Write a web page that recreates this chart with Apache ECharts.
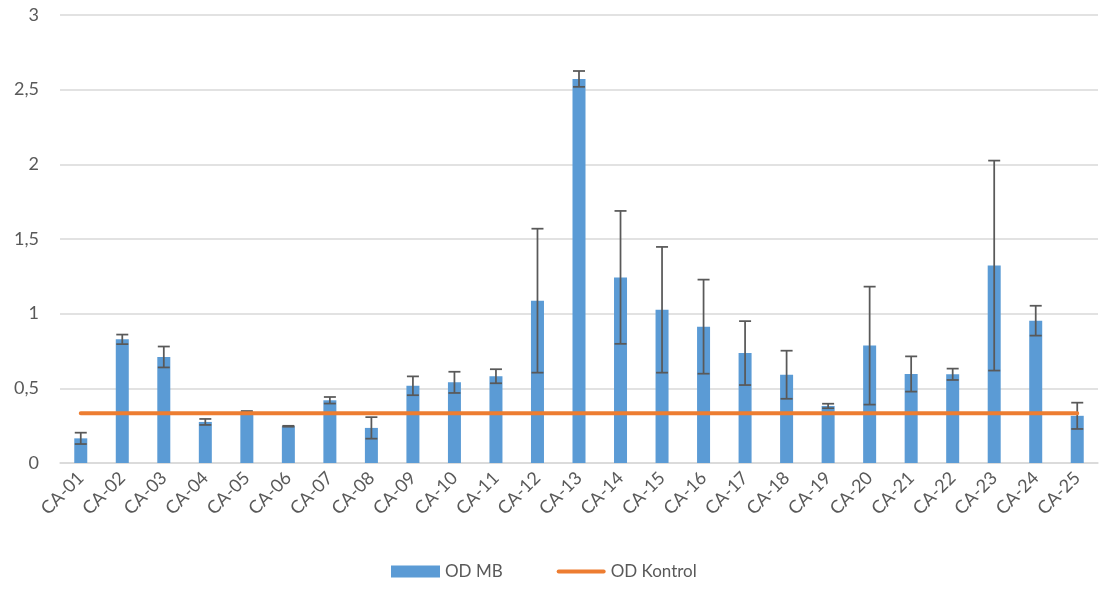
<!DOCTYPE html>
<html>
<head>
<meta charset="utf-8">
<script src="https://cdn.jsdelivr.net/npm/echarts@6/dist/echarts.min.js"></script>
<style>
html,body{margin:0;padding:0;background:#fff;}
#chart{width:1103px;height:590px;}
</style>
</head>
<body>
<div id="chart"></div>
<script>
const categories = ['CA-01','CA-02','CA-03','CA-04','CA-05','CA-06','CA-07','CA-08','CA-09','CA-10','CA-11','CA-12','CA-13','CA-14','CA-15','CA-16','CA-17','CA-18','CA-19','CA-20','CA-21','CA-22','CA-23','CA-24','CA-25'];
const odMB = [0.165,0.828,0.710,0.275,0.343,0.246,0.420,0.235,0.517,0.540,0.581,1.087,2.572,1.243,1.026,0.913,0.736,0.591,0.382,0.786,0.596,0.594,1.322,0.953,0.316];
const odMBErr = [0.038,0.032,0.070,0.020,0.005,0.003,0.022,0.072,0.063,0.071,0.047,0.482,0.053,0.445,0.421,0.315,0.214,0.161,0.015,0.395,0.118,0.038,0.703,0.100,0.088];
const odKontrol = [0.333,0.333,0.333,0.333,0.333,0.333,0.333,0.333,0.333,0.333,0.333,0.333,0.333,0.333,0.333,0.333,0.333,0.333,0.333,0.333,0.333,0.333,0.333,0.333,0.333];
const yTicks = [0,0.5,1,1.5,2,2.5,3];

const errData = odMB.map((v,i)=>[i, v - odMBErr[i], v + odMBErr[i]]);
const FONT = 'Lato';
const chart = echarts.init(document.getElementById('chart'));
chart.setOption({
  animation:false,
  textStyle:{fontFamily:FONT},
  grid:{left:60,right:5,top:15,bottom:127,containLabel:false},
  legend:{
    bottom:5,left:386,
    itemWidth:49,itemHeight:12,itemGap:54,
    textStyle:{fontFamily:FONT,fontSize:17,color:'#595959'},
    data:[{name:'OD MB',icon:'rect'},
          {name:'OD Kontrol',icon:'path://M2,0 L47,0 A2,2 0 0 1 47,4 L2,4 A2,2 0 0 1 2,0 Z'}]
  },
  xAxis:{
    type:'category',data:categories,boundaryGap:true,
    axisLine:{lineStyle:{color:'#D9D9D9',width:1.5}},
    axisTick:{show:false},
    axisLabel:{rotate:45,interval:0,color:'#595959',fontSize:18,fontFamily:FONT,margin:12}
  },
  yAxis:{
    type:'value',min:yTicks[0],max:yTicks[yTicks.length-1],interval:0.5,
    axisLine:{show:false},axisTick:{show:false},
    splitLine:{lineStyle:{color:'#D9D9D9',width:1.5}},
    axisLabel:{color:'#595959',fontSize:18,fontFamily:FONT,margin:21,
      formatter:v=>String(v).replace('.',',')}
  },
  series:[
    {name:'OD MB',type:'bar',data:odMB,barWidth:13,
     itemStyle:{color:'#5B9BD5'},z:2},
    {name:'errors',type:'custom',data:errData,z:3,
     renderItem:function(params,api){
       const x=api.value(0);
       const lo=api.coord([x,api.value(1)]);
       const hi=api.coord([x,api.value(2)]);
       const half=6;
       const st={stroke:'#595959',lineWidth:1.75};
       return {type:'group',children:[
         {type:'line',shape:{x1:hi[0],y1:hi[1],x2:lo[0],y2:lo[1]},style:st},
         {type:'line',shape:{x1:hi[0]-half,y1:hi[1],x2:hi[0]+half,y2:hi[1]},style:st},
         {type:'line',shape:{x1:lo[0]-half,y1:lo[1],x2:lo[0]+half,y2:lo[1]},style:st}
       ]};
     }},
    {name:'OD Kontrol',type:'line',data:odKontrol,symbol:'none',z:4,
     lineStyle:{color:'#ED7D31',width:4,cap:'round'},itemStyle:{color:'#ED7D31'}}
  ]
});
</script>
</body>
</html>
